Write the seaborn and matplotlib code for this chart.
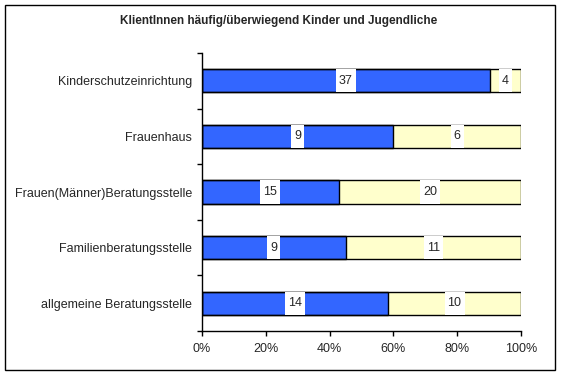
import numpy as np
import pandas as pd
import matplotlib
matplotlib.use('Agg')
import matplotlib.pyplot as plt
import seaborn as sns
from matplotlib.patches import Rectangle
from matplotlib.ticker import FixedLocator

sns.set_style('white')
plt.rcParams['font.family'] = ['Liberation Sans', 'DejaVu Sans']

# Daten
einrichtungen = ['Kinderschutzeinrichtung', 'Frauenhaus', 'Frauen(Männer)Beratungsstelle',
                 'Familienberatungsstelle', 'allgemeine Beratungsstelle']
ja = [37, 9, 15, 9, 14]
nein = [4, 6, 20, 11, 10]
x_ticks = [0, 20, 40, 60, 80, 100]
x_labels = ['0%', '20%', '40%', '60%', '80%', '100%']
titel = 'KlientInnen häufig/überwiegend Kinder und Jugendliche'

df = pd.DataFrame({'einrichtung': einrichtungen, 'ja': ja, 'nein': nein})
df['summe'] = df['ja'] + df['nein']
df['ja_pct'] = df['ja'] / df['summe'] * 100
df['gesamt'] = 100.0

blau = '#3366FF'
gelb = '#FFFFCC'
breite = 0.42
fs = 9

fig = plt.figure(figsize=(5.62, 3.76), dpi=100)
ax = fig.add_axes([202 / 562, 1 - 331 / 376, 319 / 562, 278 / 376])

# Flächen ohne Rahmen
sns.barplot(data=df, y='einrichtung', x='gesamt', color=gelb, saturation=1,
            width=breite, linewidth=0, orient='h', ax=ax)
sns.barplot(data=df, y='einrichtung', x='ja_pct', color=blau, saturation=1,
            width=breite, linewidth=0, orient='h', ax=ax)

# Beschriftungen mit weißem Kasten
texte = []
for i, row in df.iterrows():
    for xpos, wert in [(row['ja_pct'] / 2, row['ja']), ((row['ja_pct'] + 100) / 2, row['nein'])]:
        t = ax.text(xpos, i, f'{wert}', ha='center', va='center', fontsize=fs, zorder=5)
        texte.append((t, xpos, i))

ax.set_xlim(0, 100)
ax.set_ylim(4.5, -0.5)
fig.canvas.draw()
r = fig.canvas.get_renderer()
inv = ax.transData.inverted()
for t, xpos, i in texte:
    bb = t.get_window_extent(r)
    x0 = inv.transform((bb.x0 - 3, 0))[0]
    x1 = inv.transform((bb.x1 + 3, 0))[0]
    ax.add_patch(Rectangle((x0, i - breite / 2), x1 - x0, breite,
                           facecolor='white', edgecolor='none', zorder=3))

# Rahmenlinien oben drauf
sns.barplot(data=df, y='einrichtung', x='gesamt', color='black', fill=False,
            width=breite, linewidth=1, orient='h', ax=ax)
sns.barplot(data=df, y='einrichtung', x='ja_pct', color='black', fill=False,
            width=breite, linewidth=1, orient='h', ax=ax)
for p in ax.patches:
    if p.get_fill() is False:
        p.set_zorder(4)

ax.set_xlim(0, 100)
ax.set_ylim(4.5, -0.5)
ax.set_xlabel('')
ax.set_ylabel('')
ax.set_xticks(x_ticks)
ax.set_xticklabels(x_labels, fontsize=fs)
ax.set_yticks(range(len(einrichtungen)))
ax.set_yticklabels(einrichtungen, fontsize=fs)
ax.yaxis.set_minor_locator(FixedLocator(np.arange(-0.5, len(einrichtungen), 1)))
ax.tick_params(axis='y', which='major', length=0, pad=7)
ax.tick_params(axis='y', which='minor', left=True, length=3.5, width=1, color='black')
ax.tick_params(axis='x', which='major', bottom=True, length=3.5, width=1, color='black', pad=5)
for s in ['top', 'right']:
    ax.spines[s].set_visible(False)
for s in ['left', 'bottom']:
    ax.spines[s].set_color('black')
    ax.spines[s].set_linewidth(1)

fig.text(279 / 562, 1 - 21 / 376, titel, ha='center', va='center', fontsize=8.5, fontweight='bold')
fig.add_artist(Rectangle((5 / 562, 1 - 370 / 376), 550 / 562, 365 / 376, transform=fig.transFigure,
                         fill=False, edgecolor='black', linewidth=1))

fig.savefig('out.png', dpi=100)
